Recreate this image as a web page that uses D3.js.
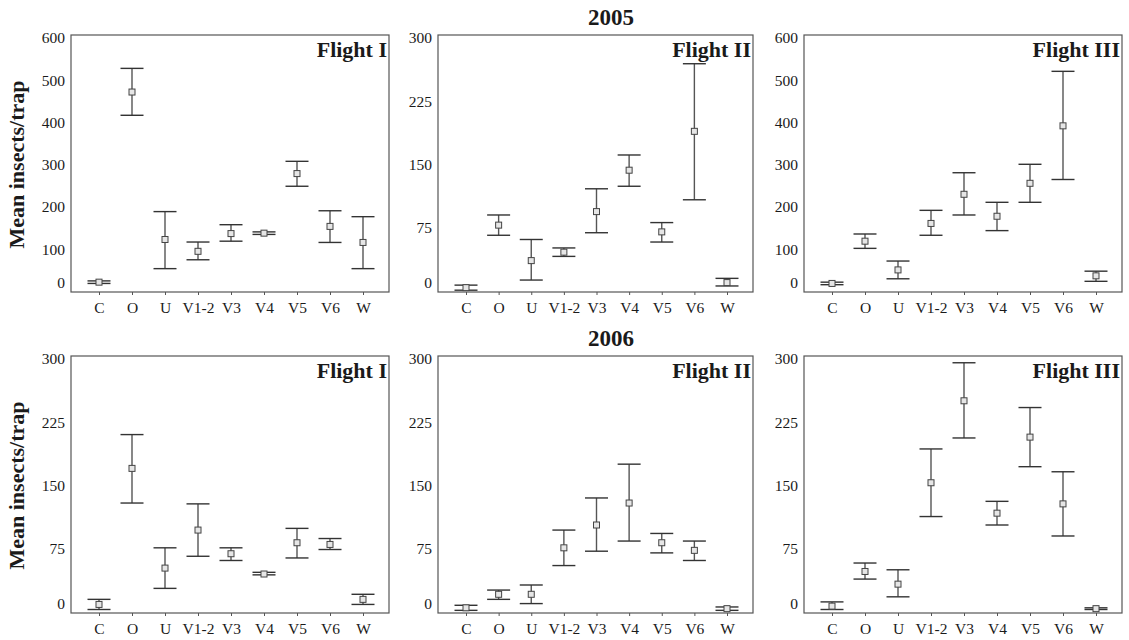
<!DOCTYPE html>
<html>
<head>
<meta charset="utf-8">
<script src="https://cdn.jsdelivr.net/npm/d3@7"></script>
<style>
  html, body { margin: 0; padding: 0; background: #fff; }
  svg { display: block; }
  text { font-family: "Liberation Serif", "Times New Roman", serif; fill: #1a1a1a; }
</style>
</head>
<body>
<svg id="chart" width="1129" height="640"></svg>
<script>
// ---------- data ----------
const categories = ["C", "O", "U", "V1-2", "V3", "V4", "V5", "V6", "W"];
const years = ["2005", "2006"];
const flights = ["Flight I", "Flight II", "Flight III"];

const ticks600 = [0, 100, 200, 300, 400, 500, 600];
const ticks300 = [0, 75, 150, 225, 300];

// 2005
const mean2005F1 = [15, 465, 116, 88, 130, 131, 272, 147, 109];
const lo2005F1   = [12, 410, 47, 68, 112, 128, 242, 109, 47];
const hi2005F1   = [18, 521, 182, 110, 151, 134, 301, 184, 170];

const mean2005F2 = [1, 75, 33, 43, 91, 140, 67, 186, 7];
const lo2005F2   = [-2, 63, 10, 38, 66, 121, 55, 105, 3];
const hi2005F2   = [4, 87, 58, 48, 118, 158, 78, 266, 12];

const mean2005F3 = [12, 112, 44, 154, 223, 171, 249, 385, 30];
const lo2005F3   = [9, 95, 23, 126, 174, 137, 204, 258, 17];
const hi2005F3   = [15, 129, 65, 185, 274, 204, 294, 514, 41];

// 2006
const mean2006F1 = [6, 167, 49, 94, 66, 42, 79, 77, 12];
const lo2006F1   = [0, 126, 25, 63, 58, 41, 61, 71, 6];
const hi2006F1   = [12, 207, 73, 125, 73, 44, 96, 84, 18];

const mean2006F2 = [2, 18, 18, 73, 100, 126, 79, 70, 1];
const lo2006F2   = [-1, 12, 7, 52, 69, 81, 67, 58, -1];
const hi2006F2   = [5, 23, 29, 94, 132, 172, 90, 81, 3];

const mean2006F3 = [4, 45, 30, 150, 247, 114, 204, 125, 1];
const lo2006F3   = [0, 36, 15, 110, 203, 100, 169, 87, 0];
const hi2006F3   = [9, 55, 47, 190, 292, 128, 239, 163, 2];

// ---------- panel table built from the arrays ----------
const panels = [
  { row: 0, col: 0, title: flights[0], ticks: ticks600, mean: mean2005F1, lo: lo2005F1, hi: hi2005F1 },
  { row: 0, col: 1, title: flights[1], ticks: ticks300, mean: mean2005F2, lo: lo2005F2, hi: hi2005F2 },
  { row: 0, col: 2, title: flights[2], ticks: ticks600, mean: mean2005F3, lo: lo2005F3, hi: hi2005F3 },
  { row: 1, col: 0, title: flights[0], ticks: ticks300, mean: mean2006F1, lo: lo2006F1, hi: hi2006F1 },
  { row: 1, col: 1, title: flights[1], ticks: ticks300, mean: mean2006F2, lo: lo2006F2, hi: hi2006F2 },
  { row: 1, col: 2, title: flights[2], ticks: ticks300, mean: mean2006F3, lo: lo2006F3, hi: hi2006F3 }
];

// ---------- layout ----------
const colLeft = [71, 438, 804];
const colWidth = [318, 315, 318];
const rowTop = [35, 356];
const panelH = 257;

const svg = d3.select("#chart");

// year titles
years.forEach((y, i) => {
  svg.append("text")
    .attr("x", 611)
    .attr("y", rowTop[i] - 10)
    .attr("text-anchor", "middle")
    .style("font-size", "23px")
    .style("font-weight", "bold")
    .text(y);
});

// y-axis titles
rowTop.forEach(t => {
  svg.append("text")
    .attr("transform", `translate(24,${t + panelH / 2 + 1}) rotate(-90)`)
    .attr("text-anchor", "middle")
    .style("font-size", "22px")
    .style("font-weight", "bold")
    .text("Mean insects/trap");
});

panels.forEach(p => {
  const left = colLeft[p.col];
  const right = left + colWidth[p.col];
  const top = rowTop[p.row];
  const bottom = top + panelH;
  const maxV = d3.max(p.ticks);

  const x = d3.scalePoint().domain(categories).range([left + 28, right - 26]);
  const y = d3.scaleLinear().domain([0, maxV]).range([bottom - 3.5, top]);

  const g = svg.append("g");

  // frame
  g.append("rect")
    .attr("x", left).attr("y", top)
    .attr("width", right - left).attr("height", bottom - top)
    .attr("fill", "none").attr("stroke", "#555").attr("stroke-width", 1.2);

  // x axis (ticks + labels) along bottom
  const xAxis = d3.axisBottom(x).tickSize(3).tickPadding(7);
  const xg = g.append("g").attr("transform", `translate(0,${bottom})`).call(xAxis);
  xg.select(".domain").remove();
  xg.selectAll("line").attr("stroke", "#555");
  xg.selectAll("text")
    .style("font-size", "15.5px")
    .style("font-family", "Liberation Serif, serif")
    .attr("fill", "#1a1a1a");

  // y axis labels (no tick marks)
  const yAxis = d3.axisLeft(y).tickValues(p.ticks).tickSize(0).tickPadding(6);
  const yg = g.append("g").attr("transform", `translate(${left},0)`).call(yAxis);
  yg.select(".domain").remove();
  yg.selectAll("text")
    .style("font-size", "15.5px")
    .style("font-family", "Liberation Serif, serif")
    .attr("fill", "#1a1a1a")
    .attr("dy", d => d === 0 ? "-0.05em" : "0.5em");

  // flight label
  g.append("text")
    .attr("x", right - 2)
    .attr("y", top + 22)
    .attr("text-anchor", "end")
    .style("font-size", "22px")
    .style("font-weight", "bold")
    .text(p.title);

  const capW = 23;
  const data = categories.map((c, i) => ({ c, m: p.mean[i], lo: p.lo[i], hi: p.hi[i] }));

  const eb = g.selectAll(".eb").data(data).enter().append("g");
  eb.append("line")
    .attr("x1", d => x(d.c)).attr("x2", d => x(d.c))
    .attr("y1", d => y(d.lo)).attr("y2", d => y(d.hi))
    .attr("stroke", "#555").attr("stroke-width", 1.4);
  eb.append("line")
    .attr("x1", d => x(d.c) - capW / 2).attr("x2", d => x(d.c) + capW / 2)
    .attr("y1", d => y(d.hi)).attr("y2", d => y(d.hi))
    .attr("stroke", "#333").attr("stroke-width", 1.4);
  eb.append("line")
    .attr("x1", d => x(d.c) - capW / 2).attr("x2", d => x(d.c) + capW / 2)
    .attr("y1", d => y(d.lo)).attr("y2", d => y(d.lo))
    .attr("stroke", "#333").attr("stroke-width", 1.4);
  eb.append("rect")
    .attr("x", d => x(d.c) - 3).attr("y", d => y(d.m) - 3)
    .attr("width", 6).attr("height", 6)
    .attr("fill", "#e6e6e6").attr("stroke", "#444").attr("stroke-width", 1);
});
</script>
</body>
</html>
